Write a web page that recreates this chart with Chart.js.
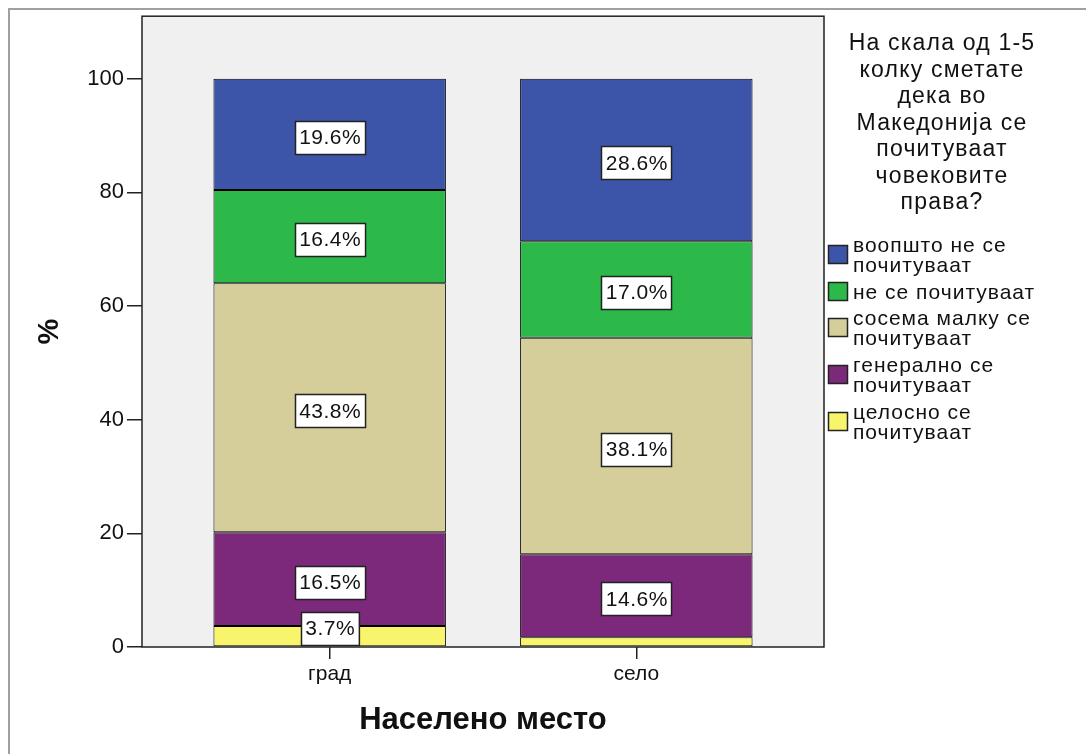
<!DOCTYPE html>
<html>
<head>
<meta charset="utf-8">
<script src="https://cdn.jsdelivr.net/npm/chart.js@4.4.1/dist/chart.umd.min.js"></script>
<style>
    html, body { margin: 0; padding: 0; background: #fff; }
    #wrap { position: relative; width: 1086px; height: 754px; }
</style>
</head>
<body>
<div id="wrap"><canvas id="chart" width="1086" height="754"></canvas></div>
<script>
// Categories / values (percent of respondents)
const categories = ['град', 'село'];
const celosno = [3.7, 1.7];       // целосно се почитуваат
const generalno = [16.5, 14.6];   // генерално се почитуваат
const sosemaMalku = [43.8, 38.1]; // сосема малку се почитуваат
const neSe = [16.4, 17.0];        // не се почитуваат
const voopshto = [19.6, 28.6];    // воопшто не се почитуваат
const yTicks = [0, 20, 40, 60, 80, 100];

const legendTitle = ['На скала од 1-5', 'колку сметате', 'дека во', 'Македонија се', 'почитуваат', 'човековите', 'права?'];

const FONT = "'Liberation Sans', Arial, sans-serif";

function points(arr) {
    return arr.map(function(v, i) { return { x: i, y: v }; });
}

function makeSet(label, lines, values, color) {
    return {
        label: label,
        legendLines: lines,
        data: points(values),
        backgroundColor: color,
        borderColor: '#000',
        borderWidth: 1,
        borderSkipped: false,
        categoryPercentage: 1,
        barPercentage: 0.758
    };
}

// Plot frame, background and outer border
const framePlugin = {
    id: 'frame',
    beforeDraw: function(chart) {
        const c = chart.ctx, a = chart.chartArea;
        c.save();
        c.fillStyle = '#fff';
        c.fillRect(0, 0, chart.width, chart.height);
        c.strokeStyle = '#a0a0a0';
        c.lineWidth = 2;
        c.beginPath();
        c.moveTo(9, chart.height);
        c.lineTo(9, 9);
        c.lineTo(chart.width, 9);
        c.stroke();
        c.fillStyle = '#f0f0f0';
        c.fillRect(a.left, a.top, a.right - a.left, a.bottom - a.top);
        c.restore();
    },
    afterDatasetsDraw: function(chart) {
        const c = chart.ctx, a = chart.chartArea;
        c.save();
        c.strokeStyle = '#222';
        c.lineWidth = 1.5;
        c.strokeRect(a.left, a.top, a.right - a.left, a.bottom - a.top);
        c.restore();
    }
};

// Value boxes on the segments
const boxPlugin = {
    id: 'boxes',
    afterDraw: function(chart) {
        const c = chart.ctx, a = chart.chartArea;
        c.save();
        c.font = '21px ' + FONT;
        c.letterSpacing = '0.5px';
        c.textAlign = 'center';
        c.textBaseline = 'middle';
        chart.data.datasets.forEach(function(ds, di) {
            const meta = chart.getDatasetMeta(di);
            meta.data.forEach(function(el, i) {
                const v = ds.data[i].y;
                if (v < 2) return;
                const txt = v.toFixed(1) + '%';
                const w = c.measureText(txt).width + 8;
                const h = 33;
                let cy = (el.y + el.base) / 2 + 3;
                if (cy + h / 2 > a.bottom - 2) cy = a.bottom - 2 - h / 2;
                const x0 = Math.round(el.x - w / 2) + 0.5, y0 = Math.round(cy - h / 2) + 0.5;
                c.fillStyle = '#fff';
                c.fillRect(x0, y0, w, h);
                c.strokeStyle = '#222';
                c.lineWidth = 1.5;
                c.strokeRect(x0, y0, w, h);
                c.fillStyle = '#111';
                c.fillText(txt, el.x + 0.5, cy + 1);
            });
        });
        c.restore();
    }
};

// Legend on the right, top item = top of the stack
const legendPlugin = {
    id: 'sideLegend',
    afterDraw: function(chart) {
        const c = chart.ctx, a = chart.chartArea;
        const x0 = a.right + 4;
        c.save();
        c.fillStyle = '#111';
        c.textBaseline = 'middle';
        c.font = '23px ' + FONT;
        c.letterSpacing = '1.2px';
        c.textAlign = 'center';
        legendTitle.forEach(function(t, i) {
            c.fillText(t, x0 + 114, 44 + i * 26.5);
        });
        c.font = '21px ' + FONT;
        c.letterSpacing = '1px';
        c.textAlign = 'left';
        let y = 246;
        const sets = chart.data.datasets.slice().reverse();
        sets.forEach(function(ds) {
            const n = ds.legendLines.length;
            const mid = y + (n - 1) * 20 / 2 - 2;
            c.fillStyle = ds.backgroundColor;
            c.fillRect(x0, mid - 9, 19, 18);
            c.strokeStyle = '#222';
            c.lineWidth = 1.5;
            c.strokeRect(x0 + 0.5, mid - 8.5, 19, 18);
            c.fillStyle = '#111';
            ds.legendLines.forEach(function(t, j) {
                c.fillText(t, x0 + 25, y + j * 20);
            });
            y += n * 21 + 5;
        });
        c.restore();
    }
};

const ctx = document.getElementById('chart').getContext('2d');
const myChart = new Chart(ctx, {
    type: 'bar',
    data: {
        datasets: [
            makeSet('целосно се почитуваат', ['целосно се', 'почитуваат'], celosno, '#f8f46c'),
            makeSet('генерално се почитуваат', ['генерално се', 'почитуваат'], generalno, '#7c297b'),
            makeSet('сосема малку се почитуваат', ['сосема малку се', 'почитуваат'], sosemaMalku, '#d5ce9b'),
            makeSet('не се почитуваат', ['не се почитуваат'], neSe, '#2db84a'),
            makeSet('воопшто не се почитуваат', ['воопшто не се', 'почитуваат'], voopshto, '#3c55a8')
        ]
    },
    options: {
        responsive: false,
        animation: false,
        layout: {
            padding: { left: 0, top: 15, right: 262, bottom: 0 }
        },
        plugins: {
            legend: { display: false },
            tooltip: { enabled: false }
        },
        scales: {
            x: {
                type: 'linear',
                stacked: true,
                min: -0.612,
                max: 1.612,
                offset: false,
                afterBuildTicks: function(scale) {
                    scale.ticks = categories.map(function(c, i) { return { value: i }; });
                },
                afterFit: function(scale) { scale.height = 107; },
                grid: { offset: false, drawOnChartArea: false, drawTicks: true, tickLength: 12, color: '#222', lineWidth: 1.5 },
                border: { display: false },
                ticks: {
                    color: '#111',
                    padding: 3,
                    font: { family: FONT, size: 21 },
                    callback: function(value) { return categories[value]; }
                },
                title: {
                    display: true,
                    text: 'Населено место',
                    color: '#111',
                    font: { family: FONT, size: 31, weight: 'bold' },
                    padding: { top: 0, bottom: 15 }
                }
            },
            y: {
                stacked: true,
                min: 0,
                max: 111,
                afterBuildTicks: function(scale) {
                    scale.ticks = yTicks.map(function(v) { return { value: v }; });
                },
                afterFit: function(scale) { scale.width = 142; },
                grid: { drawOnChartArea: false, drawTicks: true, tickLength: 15, color: '#222', lineWidth: 1.5 },
                border: { display: false },
                ticks: {
                    color: '#111',
                    padding: 3,
                    font: { family: FONT, size: 22 }
                },
                title: {
                    display: true,
                    text: '%',
                    color: '#111',
                    font: { family: FONT, size: 29, weight: 'bold' },
                    padding: { top: 33, bottom: 0 }
                }
            }
        }
    },
    plugins: [framePlugin, boxPlugin, legendPlugin]
});
</script>
</body>
</html>
